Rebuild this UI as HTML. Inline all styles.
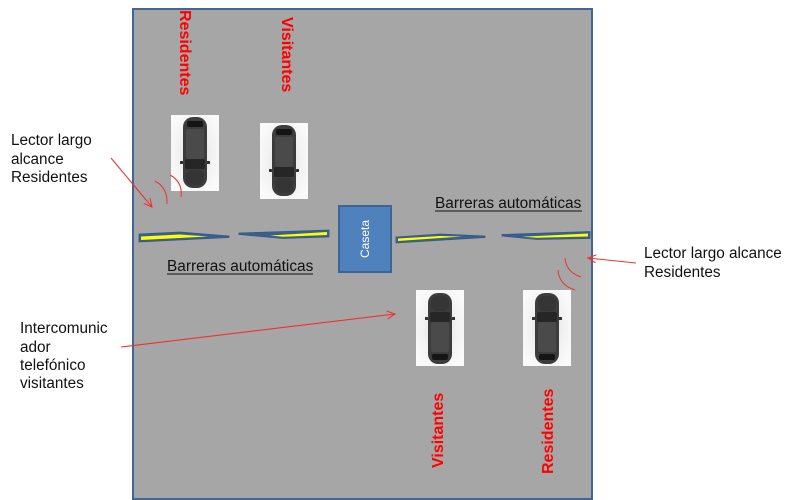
<!DOCTYPE html>
<html><head><meta charset="utf-8"><style>
html,body{margin:0;padding:0;background:#fff;}
svg{display:block;}
text{font-family:"Liberation Sans",Arial,sans-serif;}
</style></head><body>
<svg width="792" height="500" viewBox="0 0 792 500" xmlns="http://www.w3.org/2000/svg">
<defs>
<marker id="ah" markerWidth="10" markerHeight="10" refX="9" refY="5" orient="auto" markerUnits="userSpaceOnUse">
<polyline points="1,1 9,5 1,9" fill="none" stroke="#f03030" stroke-width="1.1"/>
</marker>
<radialGradient id="bg" cx="50%" cy="50%" r="60%">
<stop offset="0" stop-color="#dcdcdc"/><stop offset="0.6" stop-color="#f2f2f2"/><stop offset="1" stop-color="#fafafa"/>
</radialGradient>
<g id="car">
<rect x="0" y="0" width="48" height="76" fill="url(#bg)"/>
<rect x="12" y="2" width="24" height="71" rx="10" fill="#3c3c3c"/>
<rect x="16" y="6" width="16" height="6" rx="2" fill="#151515"/>
<rect x="15" y="14" width="18" height="30" rx="2" fill="#4a4a4a"/>
<rect x="14" y="44" width="20" height="10" rx="2" fill="#262626"/>
<rect x="9" y="46" width="3" height="3" fill="#333"/>
<rect x="36" y="46" width="3" height="3" fill="#333"/>
<rect x="15" y="55" width="18" height="15" rx="6" fill="#353535"/>
</g>
</defs>

<!-- main gray area -->
<rect x="133" y="9" width="459" height="490" fill="#a6a6a6" stroke="#3e6699" stroke-width="2"/>

<!-- top vertical labels -->
<text transform="translate(180,10) rotate(90)" font-size="16" font-weight="bold" fill="#ff0000">Residentes</text>
<text transform="translate(282,17) rotate(90)" font-size="16" font-weight="bold" fill="#ff0000">Visitantes</text>

<!-- bottom vertical labels -->
<text transform="translate(443,468) rotate(-90)" font-size="16" font-weight="bold" fill="#ff0000">Visitantes</text>
<text transform="translate(553,474) rotate(-90)" font-size="16" font-weight="bold" fill="#ff0000">Residentes</text>

<!-- cars -->
<use href="#car" x="171" y="115"/>
<use href="#car" x="260" y="123"/>
<use href="#car" transform="translate(416,366) scale(1,-1)"/>
<use href="#car" transform="translate(523,366) scale(1,-1)"/>

<!-- barriers -->
<polygon points="139,234 180,232 229,236 229,237.5 139,242" fill="#3a5f8f" stroke="#34598a" stroke-width="0.8"/>
<polygon points="141,236.5 180,234.5 208,236.5 141,240" fill="#ffff00"/>

<polygon points="239,233 329,230 329,237 283,238.5 239,234.5" fill="#3a5f8f" stroke="#34598a" stroke-width="0.8"/>
<polygon points="270,235.5 327,232 327,235 283,236.8" fill="#ffff00"/>

<polygon points="396,237 440,234 485,236 485,237.5 396,243" fill="#3a5f8f" stroke="#34598a" stroke-width="0.8"/>
<polygon points="398,238.5 440,236 462,236.5 398,241" fill="#ffff00"/>

<polygon points="502,234.5 590,231.5 590,238.5 537,239.5 502,236" fill="#3a5f8f" stroke="#34598a" stroke-width="0.8"/>
<polygon points="522,236.8 588,233.5 588,236.5 537,237.8" fill="#ffff00"/>

<!-- caseta -->
<rect x="339" y="206" width="52" height="66" fill="#4f81bd" stroke="#3d6494" stroke-width="2"/>
<text transform="translate(369,258) rotate(-90)" font-size="12" fill="#ffffff">Caseta</text>

<!-- barreras labels -->
<text x="167" y="271" font-size="15.4" fill="#111">Barreras automáticas</text>
<line x1="167" y1="274" x2="313" y2="274" stroke="#111" stroke-width="1"/>
<text x="435" y="208" font-size="15.4" fill="#111">Barreras automáticas</text>
<line x1="435" y1="211" x2="582" y2="211" stroke="#111" stroke-width="1"/>

<!-- left labels -->
<text font-size="15.3" fill="#111"><tspan x="11" y="145">Lector largo</tspan><tspan x="11" y="164">alcance</tspan><tspan x="11" y="182">Residentes</tspan></text>
<text font-size="15.3" fill="#111"><tspan x="20" y="333">Intercomunic</tspan><tspan x="20" y="352">ador</tspan><tspan x="20" y="370">telefónico</tspan><tspan x="20" y="388">visitantes</tspan></text>

<!-- right label -->
<text font-size="15.3" fill="#111"><tspan x="644" y="258">Lector largo alcance</tspan><tspan x="644" y="277">Residentes</tspan></text>

<!-- arrows -->
<line x1="111" y1="158" x2="152" y2="207" stroke="#f03030" stroke-width="1.1" marker-end="url(#ah)"/>
<line x1="121" y1="347" x2="395" y2="314" stroke="#f03030" stroke-width="1.1" marker-end="url(#ah)"/>
<line x1="636" y1="263" x2="588" y2="258" stroke="#f03030" stroke-width="1.1" marker-end="url(#ah)"/>

<!-- signal arcs -->
<path d="M155,181 Q168,188 167,204" fill="none" stroke="#f03030" stroke-width="1"/>
<path d="M170,175 Q183,182 181,197" fill="none" stroke="#f03030" stroke-width="1"/>
<path d="M565,258 Q566,272 581,277" fill="none" stroke="#f03030" stroke-width="1"/>
<path d="M558,270 Q559,285 575,290" fill="none" stroke="#f03030" stroke-width="1"/>
</svg>
</body></html>
